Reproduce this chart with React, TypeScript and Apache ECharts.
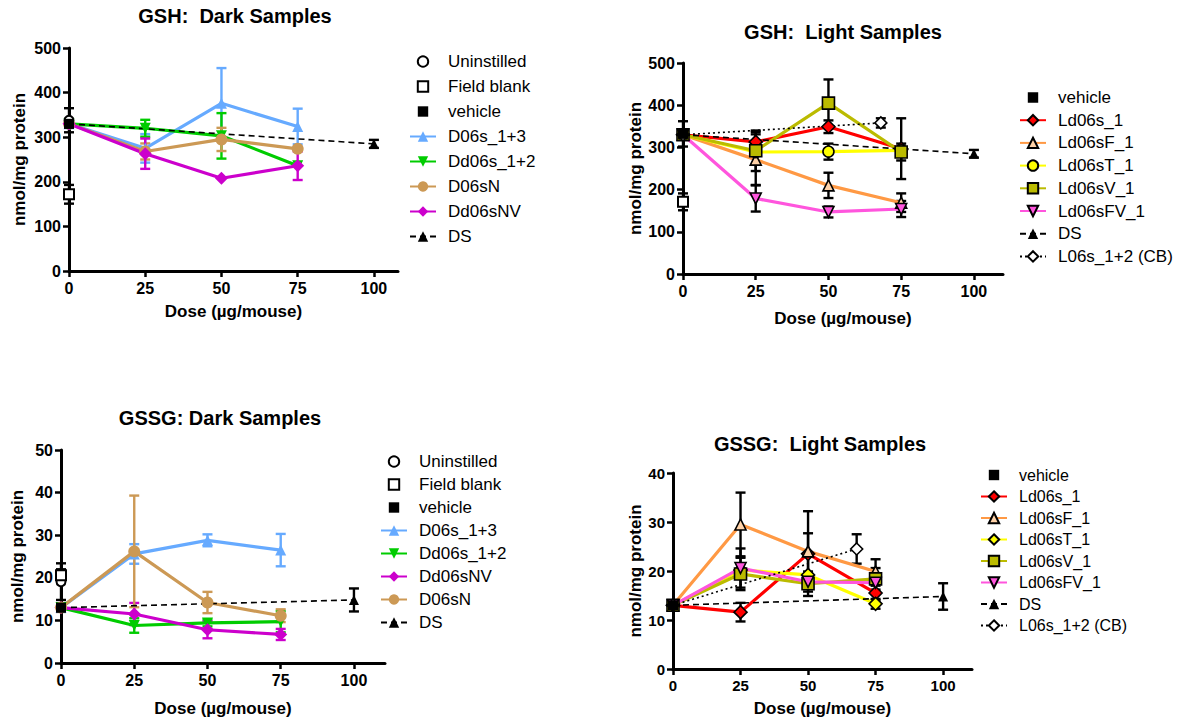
import React, { useEffect, useRef } from 'react';
import * as echarts from 'echarts';

const FONT = '"Liberation Sans", Arial, Helvetica, sans-serif';

// Shared doses
const doses = [0, 25, 50, 75];
const ctrlDose = [0];
const dsDoses = [0, 100];
const cbDoses = [0, 68];
const tickDoses = [0, 25, 50, 75, 100];

// ---- GSH: Dark Samples ----
const gshDarkUninstilled = [338];
const gshDarkUninstilledErr = [27];
const gshDarkFieldBlank = [172];
const gshDarkFieldBlankErr = [21];
const gshDarkVehicle = [330];
const gshDarkVehicleErr = [8];
const gshDarkD06s13 = [330, 275, 376, 324];
const gshDarkD06s13Err = [0, 32, 79, 40];
const gshDarkDd06s12 = [330, 320, 303, 236];
const gshDarkDd06s12Err = [0, 19, 51, 0];
const gshDarkD06sN = [330, 268, 295, 274];
const gshDarkD06sNErr = [0, 18, 26, 0];
const gshDarkDd06sNV = [330, 263, 208, 236];
const gshDarkDd06sNVErr = [0, 34, 0, 32];
const gshDarkDS = [330, 285];
const gshDarkDSErr = [0, 9];

// ---- GSH: Light Samples ----
const gshLightFieldBlank = [171];
const gshLightFieldBlankErr = [20];
const gshLightVehicle = [332];
const gshLightVehicleErr = [30];
const gshLightLd06s1 = [330, 313, 349, 297];
const gshLightLd06s1Err = [0, 24, 15, 72];
const gshLightLd06sF1 = [330, 271, 210, 169];
const gshLightLd06sF1Err = [0, 60, 30, 22];
const gshLightLd06sT1 = [330, 289, 290, 293];
const gshLightLd06sT1Err = [0, 0, 19, 0];
const gshLightLd06sV1 = [330, 292, 405, 289];
const gshLightLd06sV1Err = [0, 48, 56, 20];
const gshLightLd06sFV1 = [330, 179, 147, 154];
const gshLightLd06sFV1Err = [0, 31, 13, 19];
const gshLightDS = [330, 285];
const gshLightDSErr = [0, 9];
const gshLightCB = [330, 358];
const gshLightCBErr = [0, 11];

// ---- GSSG: Dark Samples ----
const gssgDarkUninstilled = [19.1];
const gssgDarkUninstilledErr = [4.3];
const gssgDarkFieldBlank = [20.6];
const gssgDarkFieldBlankErr = [1.4];
const gssgDarkVehicle = [13];
const gssgDarkVehicleErr = [1];
const gssgDarkD06s13 = [13, 25.6, 28.8, 26.5];
const gssgDarkD06s13Err = [0, 2.3, 1.4, 3.8];
const gssgDarkDd06s12 = [13, 8.8, 9.4, 9.7];
const gssgDarkDd06s12Err = [0, 1.7, 0.8, 2.5];
const gssgDarkDd06sNV = [13, 11.5, 7.8, 6.7];
const gssgDarkDd06sNVErr = [0, 2.6, 2.0, 1.3];
const gssgDarkD06sN = [13, 26.2, 14.2, 11.1];
const gssgDarkD06sNErr = [0, 13.1, 2.5, 1.5];
const gssgDarkDS = [13, 14.8];
const gssgDarkDSErr = [0, 2.7];

// ---- GSSG: Light Samples ----
const gssgLightVehicle = [13];
const gssgLightVehicleErr = [1];
const gssgLightLd06s1 = [13, 11.6, 23.5, 15.5];
const gssgLightLd06s1Err = [0, 1.9, 4.2, 1.5];
const gssgLightLd06sF1 = [13, 29.5, 24, 19.9];
const gssgLightLd06sF1Err = [0, 6.5, 8.2, 2.5];
const gssgLightLd06sT1 = [13, 20.2, 19.2, 13.3];
const gssgLightLd06sT1Err = [0, 0, 0, 1.0];
const gssgLightLd06sV1 = [13, 19.4, 17.4, 18.4];
const gssgLightLd06sV1Err = [0, 3.3, 2.5, 2.2];
const gssgLightLd06sFV1 = [13, 20.6, 17.8, 17.6];
const gssgLightLd06sFV1Err = [0, 4, 0, 0];
const gssgLightDS = [13, 14.8];
const gssgLightDSErr = [0, 2.7];
const gssgLightCB = [13, 24.5];
const gssgLightCBErr = [0, 3.0];

const BLUE = '#66AAFF';
const GREEN = '#00CC00';
const TAN = '#CC9955';
const MAGENTA = '#CC00CC';
const RED = '#FF0000';
const ORANGE = '#FF9944';
const YELLOW = '#FFFF00';
const OLIVE = '#BBBB00';
const PINK = '#FF55DD';

const pairs = (xs: number[], ys: number[]) => xs.map((x, i) => [x, ys[i]]);

function errSeries(p: number, key: string, xs: number[], ys: number[], err: number[], color: string) {
  const data = xs
    .map((x, i) => [x, ys[i] - err[i], ys[i] + err[i], err[i]])
    .filter((d) => d[3] > 0)
    .map((d) => [d[0], d[1], d[2]]);
  return {
    type: 'custom',
    name: 'err_' + key + '#' + p,
    xAxisIndex: p,
    yAxisIndex: p,
    z: 1,
    silent: true,
    encode: { x: 0, y: [1, 2] },
    data,
    renderItem: (params: any, api: any) => {
      const x = api.value(0);
      const lo = api.coord([x, api.value(1)]);
      const hi = api.coord([x, api.value(2)]);
      const w = 5;
      const st = { stroke: color, lineWidth: 2.4 };
      return {
        type: 'group',
        children: [
          { type: 'line', shape: { x1: hi[0], y1: hi[1], x2: lo[0], y2: lo[1] }, style: st },
          { type: 'line', shape: { x1: hi[0] - w, y1: hi[1], x2: hi[0] + w, y2: hi[1] }, style: st },
          { type: 'line', shape: { x1: lo[0] - w, y1: lo[1], x2: lo[0] + w, y2: lo[1] }, style: st },
        ],
      };
    },
  };
}

function lineSeries(
  p: number,
  name: string,
  xs: number[],
  ys: number[],
  lineColor: string,
  symbol: string,
  size: number,
  fill: string,
  border: string | null,
  opts: any = {}
) {
  return {
    type: 'line',
    name: name + '#' + p,
    xAxisIndex: p,
    yAxisIndex: p,
    z: opts.z || 3,
    data: pairs(xs, ys),
    symbol,
    symbolSize: size,
    symbolRotate: opts.rotate || 0,
    showAllSymbol: true,
    lineStyle: {
      color: lineColor,
      width: opts.width === undefined ? 3.2 : opts.width,
      type: opts.dash || 'solid',
      opacity: opts.width === 0 ? 0 : 1,
    },
    itemStyle: border
      ? { color: fill, borderColor: border, borderWidth: opts.bw || 1.6 }
      : { color: fill, borderWidth: 0 },
    emphasis: { disabled: true },
  };
}

// Control groups (a single point at dose 0, no line)
function ctrlSeries(p: number, name: string, ys: number[], symbol: string, size: number, fill: string, border: string | null) {
  return lineSeries(p, name, ctrlDose, ys, '#000', symbol, size, fill, border, { width: 0, bw: 2, z: 4 });
}

const DASH = [6, 4];
const DOT = [2, 3];

const series: any[] = [
  // Panel 0: GSH dark
  errSeries(0, 'un', ctrlDose, gshDarkUninstilled, gshDarkUninstilledErr, '#000'),
  errSeries(0, 'fb', ctrlDose, gshDarkFieldBlank, gshDarkFieldBlankErr, '#000'),
  errSeries(0, 've', ctrlDose, gshDarkVehicle, gshDarkVehicleErr, '#000'),
  errSeries(0, 'b', doses, gshDarkD06s13, gshDarkD06s13Err, BLUE),
  errSeries(0, 'g', doses, gshDarkDd06s12, gshDarkDd06s12Err, GREEN),
  errSeries(0, 't', doses, gshDarkD06sN, gshDarkD06sNErr, TAN),
  errSeries(0, 'm', doses, gshDarkDd06sNV, gshDarkDd06sNVErr, MAGENTA),
  errSeries(0, 'ds', dsDoses, gshDarkDS, gshDarkDSErr, '#000'),
  ctrlSeries(0, 'Uninstilled', gshDarkUninstilled, 'circle', 9, '#fff', '#000'),
  ctrlSeries(0, 'Field blank', gshDarkFieldBlank, 'rect', 10, '#fff', '#000'),
  ctrlSeries(0, 'vehicle', gshDarkVehicle, 'rect', 10, '#000', null),
  lineSeries(0, 'D06s_1+3', doses, gshDarkD06s13, BLUE, 'triangle', 11, BLUE, null),
  lineSeries(0, 'Dd06s_1+2', doses, gshDarkDd06s12, GREEN, 'triangle', 11, GREEN, null, { rotate: 180 }),
  lineSeries(0, 'D06sN', doses, gshDarkD06sN, TAN, 'circle', 12, TAN, null),
  lineSeries(0, 'Dd06sNV', doses, gshDarkDd06sNV, MAGENTA, 'diamond', 13, MAGENTA, null),
  lineSeries(0, 'DS', dsDoses, gshDarkDS, '#000', 'triangle', 10, '#000', null, { width: 1.6, dash: DASH }),

  // Panel 1: GSH light
  errSeries(1, 'fb', ctrlDose, gshLightFieldBlank, gshLightFieldBlankErr, '#000'),
  errSeries(1, 've', ctrlDose, gshLightVehicle, gshLightVehicleErr, '#000'),
  errSeries(1, 'r', doses, gshLightLd06s1, gshLightLd06s1Err, '#000'),
  errSeries(1, 'o', doses, gshLightLd06sF1, gshLightLd06sF1Err, '#000'),
  errSeries(1, 'y', doses, gshLightLd06sT1, gshLightLd06sT1Err, '#000'),
  errSeries(1, 'v', doses, gshLightLd06sV1, gshLightLd06sV1Err, '#000'),
  errSeries(1, 'p', doses, gshLightLd06sFV1, gshLightLd06sFV1Err, '#000'),
  errSeries(1, 'ds', dsDoses, gshLightDS, gshLightDSErr, '#000'),
  errSeries(1, 'cb', cbDoses, gshLightCB, gshLightCBErr, '#000'),
  ctrlSeries(1, 'Field blank', gshLightFieldBlank, 'rect', 10, '#fff', '#000'),
  ctrlSeries(1, 'vehicle', gshLightVehicle, 'rect', 10, '#000', null),
  lineSeries(1, 'Ld06s_1', doses, gshLightLd06s1, RED, 'diamond', 13, RED, '#000'),
  lineSeries(1, 'Ld06sF_1', doses, gshLightLd06sF1, ORANGE, 'triangle', 11, '#FFD2A8', '#000'),
  lineSeries(1, 'Ld06sT_1', doses, gshLightLd06sT1, YELLOW, 'circle', 11, YELLOW, '#000'),
  lineSeries(1, 'Ld06sV_1', doses, gshLightLd06sV1, OLIVE, 'rect', 12, OLIVE, '#000'),
  lineSeries(1, 'Ld06sFV_1', doses, gshLightLd06sFV1, PINK, 'triangle', 11, PINK, '#000', { rotate: 180 }),
  lineSeries(1, 'DS', dsDoses, gshLightDS, '#000', 'triangle', 10, '#000', null, { width: 1.6, dash: DASH }),
  lineSeries(1, 'L06s_1+2 (CB)', cbDoses, gshLightCB, '#000', 'diamond', 12, '#fff', '#000', { width: 1.6, dash: DOT }),

  // Panel 2: GSSG dark
  errSeries(2, 'un', ctrlDose, gssgDarkUninstilled, gssgDarkUninstilledErr, '#000'),
  errSeries(2, 'fb', ctrlDose, gssgDarkFieldBlank, gssgDarkFieldBlankErr, '#000'),
  errSeries(2, 've', ctrlDose, gssgDarkVehicle, gssgDarkVehicleErr, '#000'),
  errSeries(2, 'b', doses, gssgDarkD06s13, gssgDarkD06s13Err, BLUE),
  errSeries(2, 'g', doses, gssgDarkDd06s12, gssgDarkDd06s12Err, GREEN),
  errSeries(2, 'm', doses, gssgDarkDd06sNV, gssgDarkDd06sNVErr, MAGENTA),
  errSeries(2, 't', doses, gssgDarkD06sN, gssgDarkD06sNErr, TAN),
  errSeries(2, 'ds', dsDoses, gssgDarkDS, gssgDarkDSErr, '#000'),
  ctrlSeries(2, 'Uninstilled', gssgDarkUninstilled, 'circle', 9, '#fff', '#000'),
  ctrlSeries(2, 'Field blank', gssgDarkFieldBlank, 'rect', 10, '#fff', '#000'),
  ctrlSeries(2, 'vehicle', gssgDarkVehicle, 'rect', 10, '#000', null),
  lineSeries(2, 'D06s_1+3', doses, gssgDarkD06s13, BLUE, 'triangle', 11, BLUE, null),
  lineSeries(2, 'Dd06s_1+2', doses, gssgDarkDd06s12, GREEN, 'triangle', 11, GREEN, null, { rotate: 180 }),
  lineSeries(2, 'Dd06sNV', doses, gssgDarkDd06sNV, MAGENTA, 'diamond', 13, MAGENTA, null),
  lineSeries(2, 'D06sN', doses, gssgDarkD06sN, TAN, 'circle', 12, TAN, null),
  lineSeries(2, 'DS', dsDoses, gssgDarkDS, '#000', 'triangle', 10, '#000', null, { width: 1.6, dash: DASH }),

  // Panel 3: GSSG light
  errSeries(3, 've', ctrlDose, gssgLightVehicle, gssgLightVehicleErr, '#000'),
  errSeries(3, 'r', doses, gssgLightLd06s1, gssgLightLd06s1Err, '#000'),
  errSeries(3, 'o', doses, gssgLightLd06sF1, gssgLightLd06sF1Err, '#000'),
  errSeries(3, 'y', doses, gssgLightLd06sT1, gssgLightLd06sT1Err, '#000'),
  errSeries(3, 'v', doses, gssgLightLd06sV1, gssgLightLd06sV1Err, '#000'),
  errSeries(3, 'p', doses, gssgLightLd06sFV1, gssgLightLd06sFV1Err, '#000'),
  errSeries(3, 'ds', dsDoses, gssgLightDS, gssgLightDSErr, '#000'),
  errSeries(3, 'cb', cbDoses, gssgLightCB, gssgLightCBErr, '#000'),
  ctrlSeries(3, 'vehicle', gssgLightVehicle, 'rect', 10, '#000', null),
  lineSeries(3, 'Ld06s_1', doses, gssgLightLd06s1, RED, 'diamond', 13, RED, '#000'),
  lineSeries(3, 'Ld06sF_1', doses, gssgLightLd06sF1, ORANGE, 'triangle', 11, '#FFD2A8', '#000'),
  lineSeries(3, 'Ld06sT_1', doses, gssgLightLd06sT1, YELLOW, 'diamond', 13, YELLOW, '#000'),
  lineSeries(3, 'Ld06sV_1', doses, gssgLightLd06sV1, OLIVE, 'rect', 12, OLIVE, '#000'),
  lineSeries(3, 'Ld06sFV_1', doses, gssgLightLd06sFV1, PINK, 'triangle', 11, PINK, '#000', { rotate: 180 }),
  lineSeries(3, 'DS', dsDoses, gssgLightDS, '#000', 'triangle', 10, '#000', null, { width: 1.6, dash: DASH }),
  lineSeries(3, 'L06s_1+2 (CB)', cbDoses, gssgLightCB, '#000', 'diamond', 12, '#fff', '#000', { width: 1.6, dash: DOT }),
];

const grids = [
  { left: 69, top: 48, width: 329, height: 223 },
  { left: 683, top: 63, width: 320, height: 211 },
  { left: 61, top: 450, width: 324, height: 213 },
  { left: 673, top: 473, width: 299, height: 196 },
];
const xMax = [107.9, 110, 110.6, 110.7];
const yMax = [500, 500, 50, 40];
const yInterval = [100, 100, 10, 10];
const xNameGap = [32, 36, 37, 31];
const yNameGap = [41, 37, 35, 28];

const axisLine = { show: true, onZero: false, lineStyle: { color: '#000', width: 3 } };
const tickStyle = { color: '#000', width: 2.5 };
const labelStyle = { color: '#000', fontWeight: 'bold' as const, fontFamily: FONT, fontSize: 16 };
const nameStyle = { color: '#000', fontWeight: 'bold' as const, fontFamily: FONT, fontSize: 17 };

const xAxes = grids.map((_, i) => ({
  gridIndex: i,
  type: 'value',
  min: 0,
  max: xMax[i],
  axisLine,
  axisTick: { show: true, length: 6, customValues: tickDoses, lineStyle: tickStyle },
  axisLabel: { ...labelStyle, fontSize: i === 3 ? 15 : 16, margin: 9, customValues: tickDoses },
  splitLine: { show: false },
  name: 'Dose (\u00B5g/mouse)',
  nameLocation: 'middle',
  nameGap: xNameGap[i],
  nameTextStyle: nameStyle,
}));

const yAxes = grids.map((_, i) => ({
  gridIndex: i,
  type: 'value',
  min: 0,
  max: yMax[i],
  interval: yInterval[i],
  axisLine,
  axisTick: { show: true, length: 6, lineStyle: tickStyle },
  axisLabel: { ...labelStyle, fontSize: i === 3 ? 15 : 16, margin: 8 },
  splitLine: { show: false },
  name: 'nmol/mg protein',
  nameLocation: 'middle',
  nameGap: yNameGap[i],
  nameRotate: 90,
  nameTextStyle: nameStyle,
}));

function legend(p: number, left: number, top: number, names: string[], fontSize: number, gap: number) {
  return {
    orient: 'vertical',
    left,
    top,
    padding: 0,
    itemWidth: 26,
    itemHeight: 13,
    itemGap: gap,
    selectedMode: false,
    data: names.map((n) => n + '#' + p),
    formatter: (n: string) => n.split('#')[0],
    textStyle: { fontFamily: FONT, fontSize, color: '#000', lineHeight: fontSize, padding: [0, 0, 0, 7] },
  };
}

const legend0 = ['Uninstilled', 'Field blank', 'vehicle', 'D06s_1+3', 'Dd06s_1+2', 'D06sN', 'Dd06sNV', 'DS'];
const legend1 = ['vehicle', 'Ld06s_1', 'Ld06sF_1', 'Ld06sT_1', 'Ld06sV_1', 'Ld06sFV_1', 'DS', 'L06s_1+2 (CB)'];
const legend2 = ['Uninstilled', 'Field blank', 'vehicle', 'D06s_1+3', 'Dd06s_1+2', 'Dd06sNV', 'D06sN', 'DS'];
const legend3 = ['vehicle', 'Ld06s_1', 'Ld06sF_1', 'Ld06sT_1', 'Ld06sV_1', 'Ld06sFV_1', 'DS', 'L06s_1+2 (CB)'];

const titles = [
  { text: 'GSH:  Dark Samples', x: 235, y: 16 },
  { text: 'GSH:  Light Samples', x: 843, y: 32 },
  { text: 'GSSG: Dark Samples', x: 220, y: 418 },
  { text: 'GSSG:  Light Samples', x: 820, y: 444 },
];

const option: any = {
  animation: false,
  backgroundColor: '#fff',
  textStyle: { fontFamily: FONT },
  grid: grids.map((g) => ({ ...g, containLabel: false, outerBoundsMode: 'none' })),
  xAxis: xAxes,
  yAxis: yAxes,
  legend: [
    legend(0, 409, 53, legend0, 17, 8),
    legend(1, 1019, 89, legend1, 17, 5.7),
    legend(2, 380, 453, legend2, 17, 6),
    legend(3, 980, 467, legend3, 16, 5.5),
  ],
  graphic: titles.map((t) => ({
    type: 'text',
    x: t.x,
    y: t.y,
    style: {
      text: t.text,
      fill: '#000',
      font: 'bold 20px ' + FONT,
      textAlign: 'center',
      textVerticalAlign: 'middle',
    },
  })),
  series,
};

export default function App() {
  const ref = useRef<HTMLDivElement>(null);
  useEffect(() => {
    if (!ref.current) return;
    const chart = echarts.init(ref.current, null, { renderer: 'svg' });
    chart.setOption(option);
    return () => chart.dispose();
  }, []);
  return (
    <div
      ref={ref}
      style={{ position: 'absolute', left: 0, top: 0, width: 1179, height: 724, background: '#fff' }}
    />
  );
}
